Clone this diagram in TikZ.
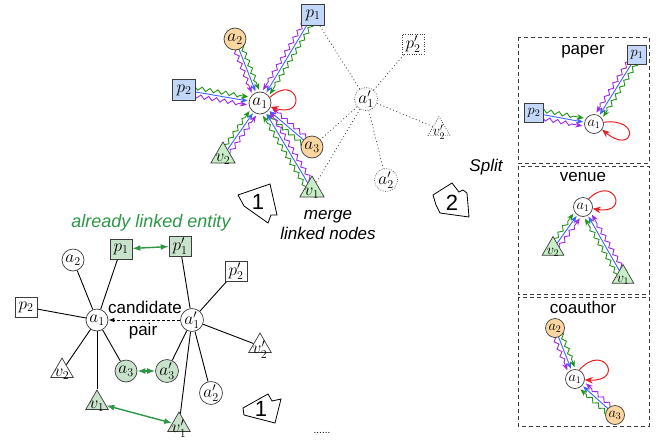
\documentclass[tikz,border=0pt]{standalone}
\usepackage{fontspec}
\setsansfont{Liberation Sans}
\usetikzlibrary{calc,shapes.geometric,decorations.pathmorphing,arrows.meta}
\pgfdeclarelayer{bg}
\pgfsetlayers{bg,main}
\definecolor{gEdge}{RGB}{30,150,20}
\definecolor{bEdge}{RGB}{60,100,255}
\definecolor{pEdge}{RGB}{160,40,230}
\definecolor{bFill}{RGB}{195,215,248}
\definecolor{oFill}{RGB}{250,215,160}
\definecolor{tFill}{RGB}{200,238,200}
\definecolor{lgFill}{RGB}{200,226,204}
\definecolor{lgLine}{RGB}{45,150,70}
\definecolor{loopRed}{RGB}{235,30,30}
\definecolor{nodeLine}{RGB}{60,60,60}
\tikzset{
  nfont/.style={font=\fontsize{17.28}{17.28}\selectfont},
  sfont/.style={font=\fontsize{14.4}{14.4}\selectfont},
  nd/.style={draw=nodeLine, line width=0.7pt, inner sep=0pt, nfont},
  cnode/.style={nd, circle, minimum size=22pt},
  bnode/.style={nd, rectangle, minimum width=22pt, minimum height=20pt},
  tnode/.style={nd, regular polygon, regular polygon sides=3, minimum size=28pt},
  tl/.style={label={[nfont, yshift=-3.5pt]center:#1}},
  tls/.style={label={[sfont, yshift=-3pt]center:#1}},
  dotb/.style={dash pattern=on 0.8pt off 1.6pt},
  lbl/.style={font=\fontsize{17}{20}\selectfont\sffamily},
  ilbl/.style={font=\fontsize{17}{20}\selectfont\sffamily\itshape},
  tip/.style={-{Stealth[length=7pt,width=5.5pt]}},
  bE/.style={draw=bEdge, line width=0.9pt, tip},
  wv/.style={line width=0.9pt, tip, decorate,
     decoration={snake, amplitude=1.9pt, segment length=8pt, pre length=1pt, post length=7pt}},
  gE/.style={draw=gEdge, wv},
  pE/.style={draw=pEdge, wv},
  loopE/.style={draw=loopRed, line width=1pt, -{Stealth[length=8pt,width=6.5pt]}},
  dotl/.style={draw=nodeLine, line width=0.8pt, dash pattern=on 0.9pt off 2.6pt},
  solid edge/.style={draw=black, line width=0.9pt},
  link/.style={draw=lgLine, line width=1.4pt, {Latex[length=8pt,width=6pt]}-{Latex[length=8pt,width=6pt]}},
  shp/.style={draw=black, line width=0.8pt, fill=white},
  digit/.style={font=\fontsize{22}{22}\selectfont\sffamily},
  panel/.style={draw=nodeLine, line width=0.9pt, dash pattern=on 4pt off 3pt},
}
\newcommand\tripleedge[4]{%
  \draw[bE] ($(#1)!#3!(#2)$) -- ($(#2)!#4!(#1)$);
  \draw[gE] ($(#1)!#3!(#2)!4pt!90:(#2)$) -- ($(#2)!#4!(#1)!4pt!-90:(#1)$);
  \draw[pE] ($(#1)!#3!(#2)!4pt!-90:(#2)$) -- ($(#2)!#4!(#1)!4pt!90:(#1)$);
}
\begin{document}
\begin{tikzpicture}[x=1pt,y=-1pt]
\useasboundingbox (0,0) rectangle (667,440);

% ---------- top merged graph ----------
\node[cnode, fill=white] (a1t) at (260,103) {$a_1$};
\node[bnode, fill=bFill, minimum width=23pt, minimum height=21pt] (p1t) at (313,15) {$p_1$};
\node[cnode, fill=oFill] (a2t) at (235,39) {$a_2$};
\node[bnode, fill=bFill, minimum width=23pt, minimum height=21pt] (p2t) at (184,90) {$p_2$};
\node[tnode, fill=tFill, tl=$v_2$] (v2t) at (223,156) {};
\node[cnode, fill=oFill] (a3t) at (312,147) {$a_3$};
\node[tnode, fill=tFill, tl=$v_1$] (v1t) at (312,190) {};

\node[cnode, dotb] (a1d) at (366,99) {$a'_1$};
\node[bnode, dotb] (p2d) at (413,44) {$p'_2$};
\node[tnode, dotb, minimum size=25pt, tls=$v'_2$] (v2d) at (439,129) {};
\node[cnode, dotb] (a2d) at (386,180) {$a'_2$};

\begin{pgfonlayer}{bg}
  \tripleedge{p1t}{a1t}{6pt}{12.5pt}
  \tripleedge{a2t}{a1t}{6pt}{12.5pt}
  \tripleedge{p2t}{a1t}{6pt}{12.5pt}
  \tripleedge{v2t}{a1t}{6pt}{12.5pt}
  \tripleedge{a3t}{a1t}{6pt}{12.5pt}
  \tripleedge{v1t}{a1t}{6pt}{12.5pt}
  \draw[dotl] (a1d) -- (p1t);
  \draw[dotl] (a1d) -- (p2d);
  \draw[dotl] (a1d) -- (v2d);
  \draw[dotl] (a1d) -- (a2d);
  \draw[dotl] (a1d) -- (a3t);
  \draw[dotl] (a1d) -- (v1t);
\end{pgfonlayer}
\draw[loopE] (a1t.30) .. controls +(28,-25) and +(38,12) .. (a1t.-20);

% ---------- step arrows ----------
\draw[shp] (238,195) -- (270,184) -- (277,215) -- (271,215) -- (268,223) -- (244,206) -- cycle;
\node[digit] (s1a) at (258,202) {1};
\node[ilbl, align=center] (merge) at (328,225) {merge\\[0pt]linked nodes};

\draw[shp] (433,195) -- (452,183) -- (459,192) -- (463,190) -- (467,193) -- (469,217) -- (440,213) -- (436,205) -- cycle;
\node[digit] (s2) at (452,203) {2};
\node[ilbl] (split) at (486,167) {Split};

\draw[shp] (243,408) -- (268,394) -- (272,401) -- (281,399) -- (275,423) -- (244,415) -- cycle;
\node[digit] (s1b) at (261,409) {1};
\node[font=\fontsize{10}{10}\selectfont\sffamily] (dots) at (322,433) {......};

% ---------- right panels ----------
\draw[panel] (518,37) rectangle (649,163);
\draw[panel] (518,166) rectangle (649,294);
\draw[panel] (518,297) rectangle (649,426);

\node[lbl] (tpaper) at (583,52) {paper};
\node[cnode, fill=white, minimum size=19pt, sfont] (a1p) at (594,124) {$a_1$};
\node[bnode, fill=bFill, minimum width=19pt, minimum height=19pt, sfont] (p1p) at (637,55) {$p_1$};
\node[bnode, fill=bFill, minimum width=19pt, minimum height=19pt, sfont] (p2p) at (534,113) {$p_2$};

\node[lbl] (tvenue) at (583,177) {venue};
\node[cnode, fill=white, minimum size=19pt, sfont] (a1v) at (583,207) {$a_1$};
\node[tnode, fill=tFill, minimum size=25pt, tls=$v_2$] (v2v) at (553,249) {};
\node[tnode, fill=tFill, minimum size=25pt, tls=$v_1$] (v1v) at (623,277) {};

\node[lbl] (tcoauthor) at (583,307) {coauthor};
\node[cnode, fill=oFill, minimum size=19pt, sfont] (a2c) at (555,328) {$a_2$};
\node[cnode, fill=white, minimum size=19pt, sfont] (a1c) at (575,379) {$a_1$};
\node[cnode, fill=oFill, minimum size=19pt, sfont] (a3c) at (615,415) {$a_3$};

\begin{pgfonlayer}{bg}
  \tripleedge{p1p}{a1p}{5pt}{11pt}
  \tripleedge{p2p}{a1p}{5pt}{11pt}
  \tripleedge{v2v}{a1v}{5pt}{11pt}
  \tripleedge{v1v}{a1v}{5pt}{11pt}
  \tripleedge{a2c}{a1c}{5pt}{11pt}
  \tripleedge{a3c}{a1c}{5pt}{11pt}
\end{pgfonlayer}
\draw[loopE] (a1p.10) .. controls +(38,-5) and +(32,26) .. (a1p.-35);
\draw[loopE] (a1v.55) .. controls +(25,-25) and +(38,6) .. (a1v.-10);
\draw[loopE] (a1c.65) .. controls +(25,-28) and +(40,2) .. (a1c.-5);

% ---------- bottom-left graph ----------
\node[ilbl, text=lgLine, font=\fontsize{18}{20}\selectfont\sffamily\itshape] (already) at (151,223) {already linked entity};
\node[cnode, fill=white] (a1b) at (97,320) {$a_1$};
\node[cnode, fill=white] (a1pb) at (192,320) {$a'_1$};
\node[bnode, fill=lgFill] (p1b) at (121,249) {$p_1$};
\node[bnode, fill=lgFill] (p1pb) at (180,246) {$p'_1$};
\node[cnode, fill=white] (a2b) at (73,260) {$a_2$};
\node[bnode, fill=white] (p2b) at (26,307) {$p_2$};
\node[tnode, fill=white, minimum size=26pt, tl=$v_2$] (v2b) at (62,371) {};
\node[cnode, fill=lgFill] (a3b) at (126,371) {$a_3$};
\node[tnode, fill=lgFill, minimum size=26pt, tl=$v_1$] (v1b) at (97,403) {};
\node[bnode, fill=white] (p2pb) at (236,271) {$p'_2$};
\node[tnode, fill=white, minimum size=26pt, tl=$v'_2$] (v2pb) at (260,346) {};
\node[cnode, fill=lgFill] (a3pb) at (167,371) {$a'_3$};
\node[cnode, fill=white] (a2pb) at (211,393) {$a'_2$};
\node[tnode, fill=lgFill, minimum size=26pt, tl=$v'_1$] (v1pb) at (179,425) {};

\begin{pgfonlayer}{bg}
  \foreach \n in {p1b,a2b,p2b,v2b,a3b,v1b} \draw[solid edge] (a1b) -- (\n);
  \foreach \n in {p1pb,p2pb,v2pb,a3pb,a2pb,v1pb} \draw[solid edge] (a1pb) -- (\n);
\end{pgfonlayer}
\draw[link] (p1b) -- (p1pb);
\draw[link] (a3b) -- (a3pb);
\draw[link] (v1b) -- (v1pb);
\draw[line width=0.9pt, dash pattern=on 3pt off 2pt, -{Latex[length=6pt,width=4.5pt]}] (a1pb) -- (a1b);
\node[lbl] (cand) at (145,307) {candidate};
\node[lbl] (pair) at (143,331) {pair};
\end{tikzpicture}
\end{document}
